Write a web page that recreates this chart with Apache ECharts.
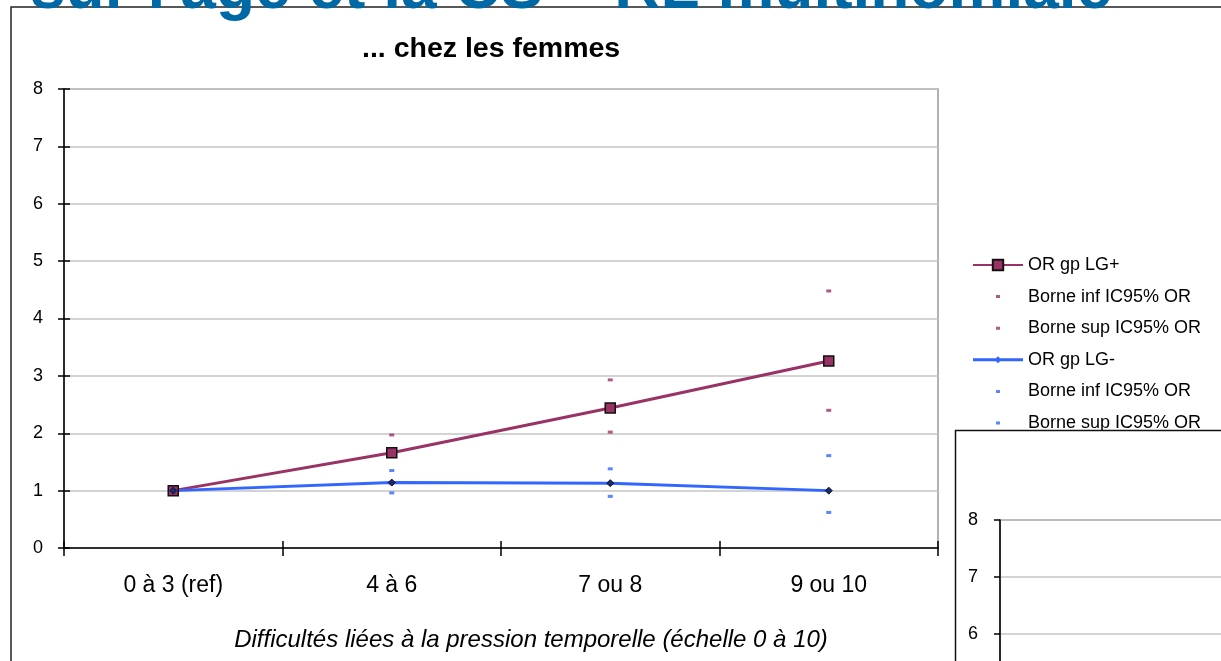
<!DOCTYPE html>
<html><head><meta charset="utf-8">
<script src="https://cdn.jsdelivr.net/npm/echarts@6/dist/echarts.min.js"></script>
<style>html,body{margin:0;padding:0;background:#fff;}#c{width:1221px;height:661px;}</style>
</head><body><div id="c"></div>
<script>
const categories = ['0 à 3 (ref)', '4 à 6', '7 ou 8', '9 ou 10'];
const orLGplus = [1, 1.66, 2.44, 3.26];
const infLGplus = [null, 1.13, 2.02, 2.40];
const supLGplus = [null, 1.97, 2.93, 4.48];
const orLGminus = [1, 1.14, 1.13, 1.00];
const infLGminus = [null, 0.96, 0.90, 0.62];
const supLGminus = [null, 1.35, 1.38, 1.61];
const yMin = 0, yMax = 8, yInterval = 1;
const chartTitle = '... chez les femmes';
const xAxisTitle = 'Difficultés liées à la pression temporelle (échelle 0 à 10)';
const slideTitle = "sur l'âge et la CS – RL multinomiale";
// legend names (trailing space keeps the LG- bounds distinct from LG+ ones)
const names = ['OR gp LG+', 'Borne inf IC95% OR', 'Borne sup IC95% OR', 'OR gp LG-', 'Borne inf IC95% OR ', 'Borne sup IC95% OR '];

const FONT = 'Liberation Sans, Arial, sans-serif';
const MAROON = '#993366', BLUE = '#3366FF', NAVY = '#1d2a66';
const corners = 'M0,0h0.01v0.01h-0.01zM50,13h-0.01v-0.01h0.01z';
const dashIcon = 'path://' + corners + 'M23,5h4v3h-4z';
const lgMinusIcon = 'path://' + corners + 'M0,5h50v3h-50zM25,3l3.5,3.5l-3.5,3.5l-3.5,-3.5z';

const chart = echarts.init(document.getElementById('c'));
const yBase = {type:'value', min:yMin, max:yMax, interval:yInterval};
chart.setOption({
  animation:false,
  backgroundColor:'#ffffff',
  title:{text:chartTitle, left:357, top:30, padding:5, textStyle:{fontFamily:FONT, fontSize:28.5, fontWeight:'bold', color:'#000'}},
  legend:{
    orient:'vertical', left:972, top:256, padding:0, itemWidth:50, itemHeight:13, itemGap:13.6,
    textStyle:{fontFamily:FONT, fontSize:18, color:'#000', lineHeight:18},
    formatter: n => n.trim(),
    data:[
      {name:names[0]},
      {name:names[1], icon:dashIcon},
      {name:names[2], icon:dashIcon},
      {name:names[3], icon:lgMinusIcon, itemStyle:{color:BLUE, borderWidth:0}},
      {name:names[4], icon:dashIcon},
      {name:names[5], icon:dashIcon}
    ],
    selectedMode:false
  },
  grid:[
    {left:64, top:89, width:874, height:459, show:true, borderColor:'#999', borderWidth:1.5, backgroundColor:'transparent', containLabel:false, outerBoundsMode:'none'},
    {left:1000, top:520, width:400, height:456, show:true, borderColor:'#888', borderWidth:1.5, backgroundColor:'transparent', z:10, containLabel:false, outerBoundsMode:'none'}
  ],
  xAxis:[
    {type:'category', data:categories, gridIndex:0, boundaryGap:true,
     axisLine:{lineStyle:{color:'#000', width:1.5}},
     axisTick:{show:true, length:8, lineStyle:{color:'#000', width:1.5}},
     axisLabel:{fontFamily:FONT, fontSize:23, color:'#000', margin:26, interval:0},
     name:xAxisTitle, nameLocation:'middle', nameGap:80,
     nameTextStyle:{fontFamily:FONT, fontSize:24, fontStyle:'italic', color:'#000', padding:[0,0,0,60]}},
    {type:'category', data:categories, gridIndex:0, boundaryGap:true, position:'bottom',
     axisLine:{show:false}, axisLabel:{show:false},
     axisTick:{show:true, inside:true, length:7, lineStyle:{color:'#000', width:1.5}}},
    {type:'category', data:categories, gridIndex:1, show:false, z:11}
  ],
  yAxis:[
    Object.assign({gridIndex:0,
     axisLine:{show:true, lineStyle:{color:'#000', width:1.5}},
     axisTick:{show:true, length:6, lineStyle:{color:'#000', width:1.5}},
     axisLabel:{fontFamily:FONT, fontSize:18, color:'#000', margin:21},
     splitLine:{show:true, lineStyle:{color:'#c4c4c4', width:1.5}}}, yBase),
    Object.assign({gridIndex:0, position:'left',
     axisLine:{show:false}, axisLabel:{show:false}, splitLine:{show:false},
     axisTick:{show:true, inside:true, length:6, lineStyle:{color:'#000', width:1.5}}}, yBase),
    Object.assign({gridIndex:1, z:11,
     axisLine:{show:true, lineStyle:{color:'#000', width:1.5}},
     axisTick:{show:true, length:6, lineStyle:{color:'#000', width:1.5}},
     axisLabel:{fontFamily:FONT, fontSize:18, color:'#000', margin:22},
     splitLine:{show:true, lineStyle:{color:'#c4c4c4', width:1.5}}}, yBase)
  ],
  series:[
    {name:names[0], type:'line', data:orLGplus, xAxisIndex:0, yAxisIndex:0,
     symbol:'rect', symbolSize:10, lineStyle:{color:MAROON, width:3},
     itemStyle:{color:MAROON, borderColor:'#111', borderWidth:1.5}},
    {name:names[1], type:'scatter', data:infLGplus, symbol:'rect', symbolSize:[5,3], itemStyle:{color:MAROON}},
    {name:names[2], type:'scatter', data:supLGplus, symbol:'rect', symbolSize:[5,3], itemStyle:{color:MAROON}},
    {name:names[3], type:'line', data:orLGminus, xAxisIndex:0, yAxisIndex:0,
     symbol:'diamond', symbolSize:7, lineStyle:{color:BLUE, width:3},
     itemStyle:{color:NAVY, borderColor:'#0b1240', borderWidth:1}},
    {name:names[4], type:'scatter', data:infLGminus, symbol:'rect', symbolSize:[5,3], itemStyle:{color:BLUE}},
    {name:names[5], type:'scatter', data:supLGminus, symbol:'rect', symbolSize:[5,3], itemStyle:{color:BLUE}}
  ],
  graphic:[
    {type:'rect', z:1, silent:true, shape:{x:11, y:7, width:1300, height:700},
     style:{fill:'none', stroke:'#222', lineWidth:1.5}},
    {type:'rect', z:5, silent:true, shape:{x:955.5, y:430.5, width:400, height:400},
     style:{fill:'#fff', stroke:'#111', lineWidth:1.5}},
    {type:'text', z:20, silent:true, x:30, y:22,
     style:{text:slideTitle, fill:'#0068A5', font:'bold 64px ' + FONT, verticalAlign:'bottom', textAlign:'left'}}
  ]
});
</script></body></html>
